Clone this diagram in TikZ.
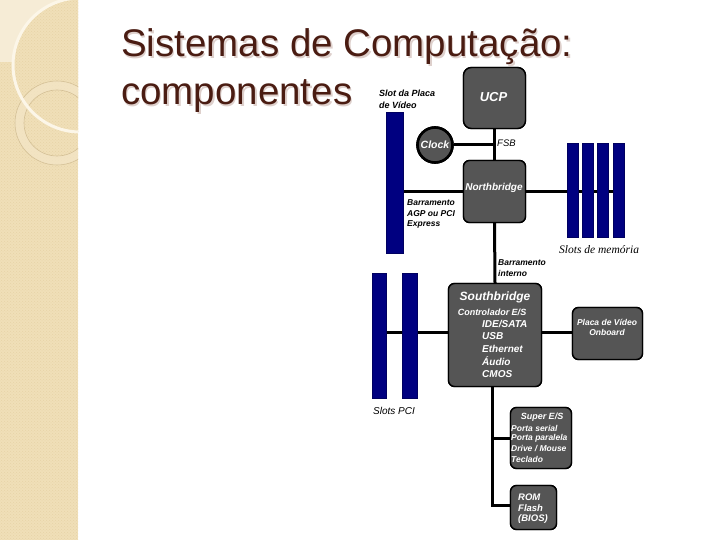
\documentclass[tikz,border=0pt]{standalone}
\usepackage{fontspec}
\setmainfont{Liberation Sans}
\newfontfamily\serifit{Liberation Serif}
\usetikzlibrary{patterns}
\definecolor{band}{RGB}{240,223,184}
\definecolor{banddot}{RGB}{231,211,166}
\definecolor{bandlight}{RGB}{246,236,214}
\definecolor{ringfill}{RGB}{243,229,197}
\definecolor{ringline}{RGB}{212,192,150}
\definecolor{arcwhite}{RGB}{252,246,232}
\definecolor{titlec}{RGB}{74,28,18}
\definecolor{titleshadow}{RGB}{222,208,204}
\definecolor{boxgray}{RGB}{85,85,85}
\definecolor{slotblue}{RGB}{0,0,128}
\begin{document}
\begin{tikzpicture}[x=1pt,y=-1pt,
  box/.style={draw=black, line width=1.4pt, fill=boxgray, rounded corners=6pt, inner sep=0pt},
  slot/.style={draw=slotblue!75!black, line width=0.5pt, fill=slotblue, inner sep=0pt},
  bus/.style={line width=3pt, draw=black, line join=miter},
  wt/.style={text=white, inner sep=0pt},
  lbl/.style={text=black, inner sep=0pt, anchor=west, font=\bfseries\itshape\fontsize{8.5}{9}\selectfont},
  boxtxt/.style={wt, anchor=west, font=\bfseries\itshape\fontsize{10}{10}\selectfont},
  titletxt/.style={anchor=base west, inner sep=0pt, font=\fontsize{38.5}{46}\selectfont}
]
\useasboundingbox (0,0) rectangle (720,540);
\fill[white] (0,0) rectangle (720,540);

% ---- decorative side band ----
\fill[band] (0,0) rectangle (78,540);
\fill[pattern=crosshatch dots, pattern color=banddot] (0,0) rectangle (78,540);
\begin{scope}
  \clip (0,0) rectangle (78,540);
  \fill[bandlight] (0,0) rectangle (64,62);
  \fill[band] (80,65) circle[radius=67];
  \fill[pattern=crosshatch dots, pattern color=banddot] (80,65) circle[radius=67];
  \fill[ringfill, even odd rule, opacity=0.8] (57,123) circle[radius=42] (57,123) circle[radius=33];
  \draw[ringline, line width=0.6pt] (57,123) circle[radius=42];
  \draw[ringline, line width=0.6pt] (57,123) circle[radius=33];
  \draw[arcwhite, line width=3pt] (80,65) circle[radius=67];
\end{scope}

% ---- title ----
\node[titletxt, text=titleshadow] at (122.5,58.5) {Sistemas de Computação:};
\node[titletxt, text=titleshadow] at (122.5,106.5) {componentes};
\node[titletxt, text=titlec] (t1) at (121,57) {Sistemas de Computação:};
\node[titletxt, text=titlec] (t2) at (121,105) {componentes};

% ---- box nodes (placed first so connectors can refer to them) ----
\node[box, rounded corners=8pt, minimum width=62pt, minimum height=61pt] (ucp) at (494.5,98) {};
\node[box, minimum width=62pt, minimum height=62pt] (nb) at (494.5,191.5) {};
\node[circle, draw=black, line width=2.6pt, fill=boxgray, minimum size=35pt, inner sep=0pt] (clock) at (435,145) {};
\node[box, minimum width=93pt, minimum height=103pt] (sb) at (495,335) {};
\node[box, minimum width=70pt, minimum height=52pt] (placa) at (607.5,333.5) {};
\node[box, minimum width=61pt, minimum height=61pt] (sup) at (541,438) {};
\node[box, minimum width=46pt, minimum height=44pt] (rom) at (533.5,507.5) {};

% ---- connectors ----
\coordinate (tap) at (492,505);
\coordinate (agpc) at (394.5,182.5);
\coordinate (pcia) at (379,335.5);
\coordinate (memend) at (619,190);
\draw[bus] (ucp.south) -- (nb.north);
\draw[bus] (clock.east) -- (clock.east -| ucp.south);
\draw[bus] (nb.south) -- (sb.north);
\draw[bus] ([yshift=3pt]sb.east) -- ([yshift=3pt]sb.east -| placa.west);
\draw[bus] (tap |- sb.south) -- (tap) -- (tap -| rom.west);
\draw[bus] (tap |- sup.west) -- (sup.west);
\draw[bus] (nb.west) -- (nb.west -| agpc);
\draw[bus] ([yshift=3pt]sb.west) -- ([yshift=3pt]sb.west -| pcia);
\draw[bus] (nb.east) -- (nb.east -| memend);

% ---- slots ----
\node[slot, minimum width=17pt, minimum height=141pt] (agp) at (agpc) {};
\node[slot, minimum width=11pt, minimum height=94pt] (m1) at (573,190) {};
\node[slot, minimum width=11pt, minimum height=94pt] (m2) at (588,190) {};
\node[slot, minimum width=11pt, minimum height=94pt] (m3) at (603,190) {};
\node[slot, minimum width=11pt, minimum height=94pt] (m4) at (memend) {};
\node[slot, minimum width=14pt, minimum height=125pt] (pci1) at (pcia) {};
\node[slot, minimum width=15pt, minimum height=125pt] (pci2) at (409.5,335.5) {};

% redraw boxes over line ends
\node[box, rounded corners=8pt, minimum width=62pt, minimum height=61pt] at (ucp) {};
\node[box, minimum width=62pt, minimum height=62pt] at (nb) {};
\node[circle, draw=black, line width=2.6pt, fill=boxgray, minimum size=35pt, inner sep=0pt] at (clock) {};
\node[box, minimum width=93pt, minimum height=103pt] at (sb) {};
\node[box, minimum width=70pt, minimum height=52pt] at (placa) {};
\node[box, minimum width=61pt, minimum height=61pt] at (sup) {};
\node[box, minimum width=46pt, minimum height=44pt] at (rom) {};

% ---- texts in boxes ----
\node[wt, font=\bfseries\itshape\fontsize{13}{13}\selectfont] (ucpt) at (493.5,97) {UCP};
\node[wt, font=\bfseries\itshape\fontsize{10.5}{10.5}\selectfont] (clockt) at (435,145) {Clock};
\node[wt, font=\bfseries\itshape\fontsize{10}{10}\selectfont] (nbt) at (494,188) {Northbridge};
\node[wt, font=\bfseries\itshape\fontsize{12}{12}\selectfont] (sbt) at (495,297) {Southbridge};
\node[wt, font=\bfseries\itshape\fontsize{9}{9}\selectfont] (sbc) at (492,312) {Controlador E/S};
\node[boxtxt] (s1) at (482,324) {IDE/SATA};
\node[boxtxt] (s2) at (482,336.5) {USB};
\node[boxtxt] (s3) at (482,349) {Ethernet};
\node[boxtxt] (s4) at (482,361.5) {Áudio};
\node[boxtxt] (s5) at (482,374) {CMOS};
\node[wt, font=\bfseries\itshape\fontsize{8.5}{8.5}\selectfont] (p1) at (607,322) {Placa de Vídeo};
\node[wt, font=\bfseries\itshape\fontsize{8.5}{8.5}\selectfont] (p2) at (607,332) {Onboard};
\node[wt, font=\bfseries\itshape\fontsize{9}{9}\selectfont] (u0) at (542,417) {Super E/S};
\node[boxtxt, font=\bfseries\itshape\fontsize{8.5}{8.5}\selectfont] (u1) at (511,428) {Porta serial};
\node[boxtxt, font=\bfseries\itshape\fontsize{8.5}{8.5}\selectfont] (u2) at (511,438.5) {Porta paralela};
\node[boxtxt, font=\bfseries\itshape\fontsize{8.5}{8.5}\selectfont] (u3) at (511,449) {Drive / Mouse};
\node[boxtxt, font=\bfseries\itshape\fontsize{8.5}{8.5}\selectfont] (u4) at (511,459) {Teclado};
\node[boxtxt, font=\bfseries\itshape\fontsize{9.5}{9.5}\selectfont] (r1) at (518,497) {ROM};
\node[boxtxt, font=\bfseries\itshape\fontsize{9.5}{9.5}\selectfont] (r2) at (518,508) {Flash};
\node[boxtxt, font=\bfseries\itshape\fontsize{9.5}{9.5}\selectfont] (r3) at (518,519.5) {(BIOS)};

% ---- outside labels ----
\node[lbl, font=\bfseries\itshape\fontsize{9}{9}\selectfont] (l1) at (379,93) {Slot da Placa};
\node[lbl, font=\bfseries\itshape\fontsize{9}{9}\selectfont] (l2) at (379,105) {de Vídeo};
\node[lbl, font=\itshape\fontsize{9.5}{9.5}\selectfont] (fsb) at (497,143) {FSB};
\node[lbl] (a1) at (407,203) {Barramento};
\node[lbl] (a2) at (407,213.5) {AGP ou PCI};
\node[lbl] (a3) at (407,224) {Express};
\node[lbl] (b1) at (498,263) {Barramento};
\node[lbl] (b2) at (498,273.5) {interno};
\node[lbl, font=\serifit\itshape\fontsize{11.5}{11.5}\selectfont] (mem) at (559,250) {Slots de memória};
\node[lbl, font=\itshape\fontsize{10}{10}\selectfont] (pcil) at (373,411) {Slots PCI};
\end{tikzpicture}
\end{document}
